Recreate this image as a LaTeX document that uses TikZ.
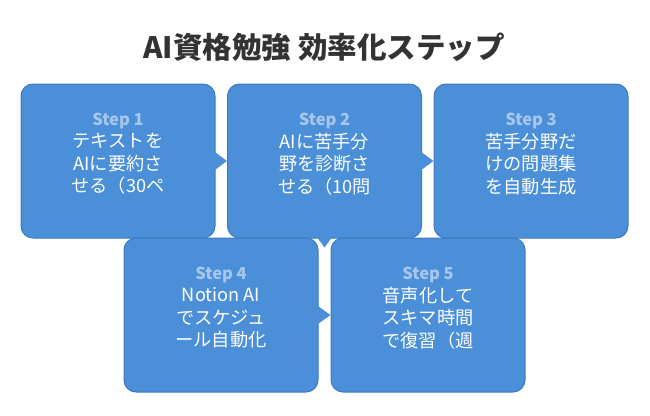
\documentclass[tikz,border=0pt]{standalone}
\usepackage{fontspec}
\setmainfont{Noto Sans CJK JP}
\usetikzlibrary{calc}
\definecolor{boxfill}{HTML}{4A8FD8}
\definecolor{boxline}{HTML}{3D7BC4}
\definecolor{steptxt}{HTML}{A6C6EC}
\definecolor{titletxt}{HTML}{333333}
\tikzset{
  stepbox/.style={draw=boxline, line width=1pt, fill=boxfill, rounded corners=12pt,
    minimum width=194pt, minimum height=154pt, inner sep=0pt},
  steplbl/.style={text=steptxt, font=\bfseries\fontsize{16.5}{19}\selectfont, inner sep=0pt},
  bodytxt/.style={text=white, align=center, font=\fontsize{18.2}{22.5}\selectfont, inner sep=0pt},
  tip/.style={fill=boxfill},
}
\begin{document}
\begin{tikzpicture}[x=1pt,y=-1pt]
\useasboundingbox[fill=white] (0,0) rectangle (650,415);
\node[text=titletxt, font=\bfseries\fontsize{29.5}{33}\selectfont] (title) at (324,47) {AI資格勉強 効率化ステップ};
% row 1
\node[stepbox] (b1) at (118,161) {};
\node[stepbox] (b2) at (324.5,161) {};
\node[stepbox] (b3) at (531,161) {};
\fill[tip] ($(b1.east)+(-2,-10)$) -- (b2.west) -- ($(b1.east)+(-2,10)$) -- cycle;
\fill[tip] ($(b2.east)+(-2,-10)$) -- (b3.west) -- ($(b2.east)+(-2,10)$) -- cycle;
\node[steplbl] (s1) at ($(b1.center)+(0,-40)$) {Step 1};
\node[bodytxt] (t1) at ($(b1.center)+(0,3)$) {テキストを\\AIに要約さ\\せる（30ペ};
\node[steplbl] (s2) at ($(b2.center)+(0,-40)$) {Step 2};
\node[bodytxt] (t2) at ($(b2.center)+(0,3)$) {AIに苦手分\\野を診断さ\\せる（10問};
\node[steplbl] (s3) at ($(b3.center)+(0,-40)$) {Step 3};
\node[bodytxt] (t3) at ($(b3.center)+(0,3)$) {苦手分野だ\\けの問題集\\を自動生成};
% row 2
\node[stepbox] (b4) at (221,315) {};
\node[stepbox] (b5) at (428,315) {};
\coordinate (d2) at ($(b2.south)+(0,9)$);
\fill[tip] ($(b2.south)+(-8,-2)$) -- (d2) -- ($(b2.south)+(8,-2)$) -- cycle;
\fill[tip] ($(b4.east)+(-2,-10)$) -- (b5.west) -- ($(b4.east)+(-2,10)$) -- cycle;
\node[steplbl] (s4) at ($(b4.center)+(0,-40)$) {Step 4};
\node[bodytxt] (t4) at ($(b4.center)+(0,3)$) {Notion AI\\でスケジュ\\ール自動化};
\node[steplbl] (s5) at ($(b5.center)+(0,-40)$) {Step 5};
\node[bodytxt] (t5) at ($(b5.center)+(0,3)$) {音声化して\\スキマ時間\\で復習（週};
\end{tikzpicture}
\end{document}
